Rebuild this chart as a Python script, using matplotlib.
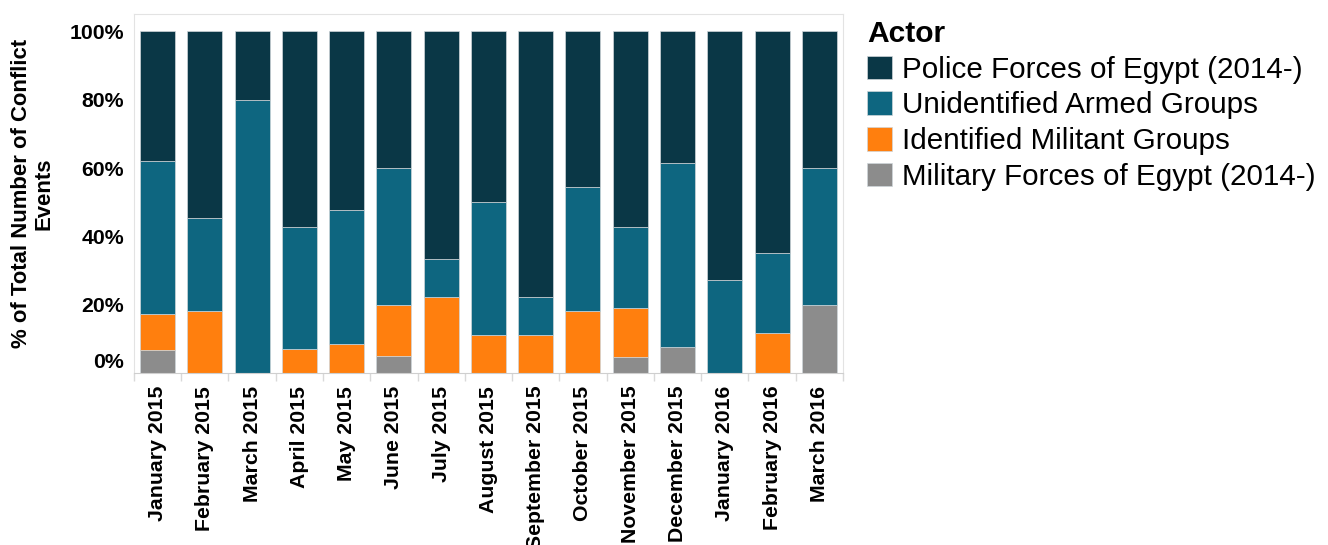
import numpy as np
import matplotlib
matplotlib.use("Agg")
import matplotlib.pyplot as plt
from matplotlib.patches import Patch
from matplotlib.transforms import ScaledTranslation

plt.rcParams['font.family'] = ['Liberation Sans', 'DejaVu Sans']

months = ['January 2015', 'February 2015', 'March 2015', 'April 2015', 'May 2015',
          'June 2015', 'July 2015', 'August 2015', 'September 2015', 'October 2015',
          'November 2015', 'December 2015', 'January 2016', 'February 2016', 'March 2016']

# shares in % (bottom to top of each bar)
military = [6.9, 0, 0, 0, 0, 5.0, 0, 0, 0, 0, 4.8, 7.7, 0, 0, 20.0]
identified = [10.3, 18.2, 0, 7.1, 8.7, 15.0, 22.2, 11.1, 11.1, 18.2, 14.2, 0, 0, 11.8, 0]
unidentified = [44.9, 27.3, 80.0, 35.8, 39.1, 40.0, 11.1, 38.9, 11.1, 36.3, 23.9, 53.8, 27.3, 23.5, 40.0]
police = [38.0, 54.5, 20.0, 57.1, 52.2, 40.0, 66.7, 50.0, 77.8, 45.5, 57.1, 38.5, 72.7, 64.7, 40.0]

series = [
    ('Military Forces of Egypt (2014-)', military, '#8c8c8c'),
    ('Identified Militant Groups', identified, '#ff7f0e'),
    ('Unidentified Armed Groups', unidentified, '#0e6680'),
    ('Police Forces of Egypt (2014-)', police, '#0a3746'),
]

fig = plt.figure(figsize=(13.28, 5.45), dpi=100)
ax = fig.add_axes([0.1008, 0.315, 0.534, 0.6593])

x = np.arange(len(months))
bottom = np.zeros(len(months))
for name, vals, col in series:
    vals = np.array(vals)
    ax.bar(x, vals, 0.74, bottom=bottom, color=col, edgecolor='#cfd6da', linewidth=0.5, label=name)
    bottom += vals

ax.set_xlim(-0.5, len(months) - 0.5)
ax.set_ylim(0, 105)

ax.set_yticks([0, 20, 40, 60, 80, 100])
ax.set_yticklabels(['0%', '20%', '40%', '60%', '80%', '100%'], fontsize=15.3, fontweight='bold')
ax.tick_params(axis='y', length=0, pad=7)
# the 0% label sits a little above the baseline
lbl0 = ax.get_yticklabels()[0]
lbl0.set_transform(lbl0.get_transform() + ScaledTranslation(0, 0.13, fig.dpi_scale_trans))

ax.set_xticks(x)
ax.set_xticklabels(months, rotation=90, fontsize=15.3, fontweight='bold')
ax.tick_params(axis='x', length=0, pad=9)
ax.set_xticks(np.arange(-0.5, len(months)), minor=True)
ax.tick_params(axis='x', which='minor', length=6, color='#d9d9d9', width=1)

for side in ['top', 'left', 'right']:
    ax.spines[side].set_color('#e3e3e3')
ax.spines['bottom'].set_color('#cfcfcf')

ax.set_ylabel('% of Total Number of Conflict\nEvents', fontsize=15.9, fontweight='bold',
              multialignment='center', linespacing=1.1)
ax.yaxis.set_label_coords(-0.112, 0.5)

handles = [Patch(facecolor=c, edgecolor='#cfd6da', linewidth=0.5) for _, _, c in series[::-1]]
labels = [n for n, _, _ in series[::-1]]
leg = fig.legend(handles, labels, title='Actor', loc='upper left',
                 bbox_to_anchor=(867 / 1328, 1 - 20 / 545), frameon=False,
                 fontsize=21.3, title_fontproperties={'weight': 'bold', 'size': 21.6},
                 handlelength=0.84, handleheight=0.84, handletextpad=0.34,
                 labelspacing=0.26, borderpad=0, borderaxespad=0, alignment='left')

fig.savefig('out.png', dpi=100)
